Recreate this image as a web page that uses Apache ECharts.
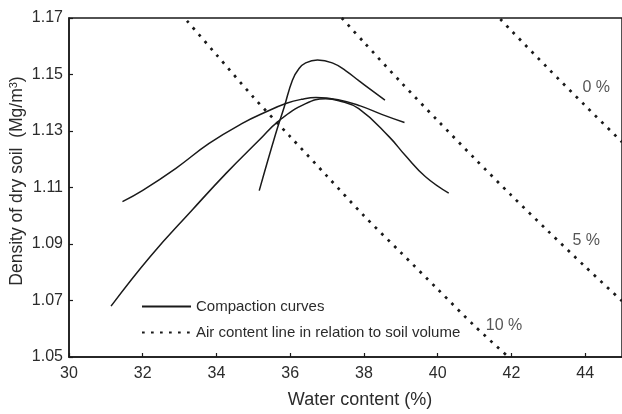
<!DOCTYPE html>
<html>
<head>
<meta charset="utf-8">
<script src="https://cdn.jsdelivr.net/npm/echarts@6/dist/echarts.min.js"></script>
<style>
  html, body { margin: 0; padding: 0; background: #fff; }
  #chart { width: 622px; height: 414px; }
</style>
</head>
<body>
<div id="chart"></div>
<script>
// Compaction curves: water content (%) against dry density (Mg/m3)
const curveA_x = [31.45, 32.0, 32.9, 33.8, 34.7, 35.35, 35.9, 36.3, 36.7, 37.3, 37.9, 38.5, 39.1];
const curveA_y = [1.105, 1.109, 1.1168, 1.1256, 1.1327, 1.1368, 1.1398, 1.1412, 1.1419, 1.1411, 1.1389, 1.1358, 1.133];

const curveB_x = [31.14, 32.2, 33.36, 34.26, 35.16, 35.7, 36.42, 36.96, 37.32, 37.86, 38.68, 39.13, 39.67, 40.3];
const curveB_y = [1.068, 1.0855, 1.1023, 1.115, 1.1268, 1.1337, 1.1397, 1.1414, 1.1407, 1.1379, 1.128, 1.1212, 1.1138, 1.108];

const curveC_x = [35.16, 35.61, 35.84, 36.06, 36.24, 36.42, 36.74, 37.14, 37.51, 37.86, 38.57];
const curveC_y = [1.1089, 1.1292, 1.1386, 1.148, 1.1521, 1.1541, 1.1551, 1.1541, 1.1513, 1.1478, 1.1409];

// Air content lines (0 %, 5 %, 10 % of soil volume)
const air10_x = [33.2, 34, 35, 36, 37, 38, 39, 40, 41, 41.92];
const air10_y = [1.169, 1.157, 1.142, 1.128, 1.114, 1.100, 1.087, 1.074, 1.061, 1.050];

const air5_x = [37.4, 38, 39, 40, 41, 42, 43, 44, 45];
const air5_y = [1.170, 1.1614, 1.1473, 1.1337, 1.1203, 1.1072, 1.0945, 1.082, 1.0698];

const air0_x = [41.7, 42, 43, 44, 45];
const air0_y = [1.1696, 1.1655, 1.1521, 1.139, 1.1261];

// Air content line labels and their anchor points
const airLabels = ['0 %', '5 %', '10 %'];
const airLabel_x = [44.3, 44.03, 41.8];
const airLabel_y = [1.1455, 1.0912, 1.0612];

// Axis settings
const xMin = 30, xMax = 45, xStep = 2;
const yMin = 1.05, yMax = 1.17, yStep = 0.02;

const SOLID_NAME = 'Compaction curves';
const DOT_NAME = 'Air content line in relation to soil volume';

const FONT = "'Liberation Sans', Arial, sans-serif";
const INK = '#1a1a1a';
const TEXT = '#2b2b2b';

const pair = (xs, ys) => xs.map((x, i) => [x, ys[i]]);

const solidStyle = { color: INK, width: 1.5, type: 'solid' };
const dotStyle = { color: INK, width: 2.7, type: [2.7, 6.3], cap: 'butt' };

function solidSeries(xs, ys) {
  return {
    type: 'line', name: SOLID_NAME, data: pair(xs, ys),
    smooth: 0.45, symbol: 'none',
    lineStyle: solidStyle, itemStyle: { color: INK }
  };
}
function dotSeries(xs, ys) {
  return {
    type: 'line', name: DOT_NAME, data: pair(xs, ys),
    smooth: 0.3, symbol: 'none',
    lineStyle: dotStyle, itemStyle: { color: INK }
  };
}

const chart = echarts.init(document.getElementById('chart'), null, { renderer: 'canvas' });

chart.setOption({
  animation: false,
  backgroundColor: '#fff',
  textStyle: { fontFamily: FONT },
  grid: {
    left: 69, right: -2, top: 18, bottom: 57,
    show: true, borderColor: INK, borderWidth: 1.5, backgroundColor: 'transparent'
  },
  legend: {
    orient: 'vertical', left: 136, top: 294,
    itemWidth: 49, itemHeight: 14, itemGap: 11,
    data: [SOLID_NAME, DOT_NAME],
    itemStyle: { opacity: 0 },
    textStyle: { fontFamily: FONT, fontSize: 15, color: TEXT },
    selectedMode: false
  },
  xAxis: {
    type: 'value', min: xMin, max: xMax, interval: xStep,
    axisLine: { show: true, lineStyle: { color: INK, width: 1.5 } },
    axisTick: { show: true, inside: true, length: 4, lineStyle: { color: INK, width: 1.2 } },
    axisLabel: { fontFamily: FONT, fontSize: 16, color: TEXT, margin: 9, showMaxLabel: false },
    splitLine: { show: false }
  },
  yAxis: {
    type: 'value', min: yMin, max: yMax, interval: yStep,
    axisLine: { show: true, lineStyle: { color: INK, width: 1.5 } },
    axisTick: { show: true, inside: true, length: 4, lineStyle: { color: INK, width: 1.2 } },
    axisLabel: { fontFamily: FONT, fontSize: 16, color: TEXT, margin: 6,
      formatter: v => v.toFixed(2) },
    splitLine: { show: false }
  },
  graphic: [
    {
      type: 'text', x: 360, y: 400,
      style: { text: 'Water content (%)', font: '18px ' + FONT, fill: TEXT,
        align: 'center', verticalAlign: 'middle' }
    },
    {
      type: 'text', x: 17, y: 181, rotation: Math.PI / 2,
      style: {
        text: 'Density of dry soil  (Mg/m{s|3})',
        font: '17.5px ' + FONT, fill: TEXT,
        align: 'center', verticalAlign: 'middle',
        rich: { s: { fontSize: 11, fontFamily: FONT, fill: TEXT, verticalAlign: 'top', padding: [0, 0, 6, 0] } }
      }
    }
  ],
  series: [
    solidSeries(curveA_x, curveA_y),
    solidSeries(curveB_x, curveB_y),
    solidSeries(curveC_x, curveC_y),
    dotSeries(air10_x, air10_y),
    dotSeries(air5_x, air5_y),
    dotSeries(air0_x, air0_y),
    {
      type: 'scatter', name: 'labels', symbolSize: 1, silent: true,
      itemStyle: { color: 'transparent' },
      data: airLabels.map((t, i) => ({ name: t, value: [airLabel_x[i], airLabel_y[i]] })),
      label: { show: true, position: 'inside', formatter: '{b}',
        fontFamily: FONT, fontSize: 16, color: TEXT }
    }
  ]
});
</script>
</body>
</html>
